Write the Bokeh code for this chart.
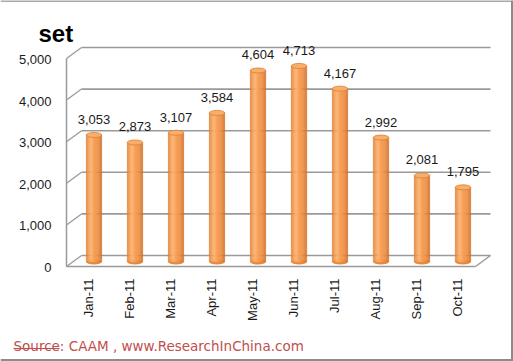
import numpy as np
from bokeh.plotting import figure
from bokeh.models import Range1d
from bokeh.core.properties import value
from bokeh.embed import file_html
from bokeh.resources import INLINE

# ---------------- data ----------------
months = ["Jan-11", "Feb-11", "Mar-11", "Apr-11", "May-11",
          "Jun-11", "Jul-11", "Aug-11", "Sep-11", "Oct-11"]
sales = [3053, 2873, 3107, 3584, 4604, 4713, 4167, 2992, 2081, 1795]
y_ticks = [0, 1000, 2000, 3000, 4000, 5000]
y_tick_labels = ["0", "1,000", "2,000", "3,000", "4,000", "5,000"]
unit_title = "set"
source_label = "Source"
source_text = "Source: CAAM , www.ResearchInChina.com"

# ---------------- geometry (pixels) ----------------
W, H = 513, 361
PX_PER_UNIT = 0.0416      # pixels per unit of value
Y0 = 255                  # canvas y of value 0 on the back wall
X0, DX = 93.5, 41.0       # canvas x of first bar, spacing


def cx(px):
    return (px - X0) / DX


def cy(py):
    return (Y0 - py) / PX_PER_UNIT


UPP = 1.0 / PX_PER_UNIT   # units per pixel

p = figure(width=W, height=H, output_backend="svg", toolbar_location=None,
           x_range=Range1d(cx(0), cx(W)), y_range=Range1d(cy(H), cy(0)),
           x_axis_location=None, y_axis_location=None, min_border=0,
           background_fill_color="white", border_fill_color="white")
p.grid.visible = False
p.outline_line_color = None

FONT = value("Liberation Sans")
grid_col = "#9a9a9a"

# ---------------- image frame ----------------
frame_col = "#8c8c8c"
p.segment(x0=[cx(0), cx(511.5), cx(0)], y0=[cy(0.5), cy(0), cy(359.5)],
          x1=[cx(513), cx(511.5), cx(513)], y1=[cy(0.5), cy(361), cy(359.5)],
          line_color=frame_col, line_width=[1.5, 2, 2])

# ---------------- 3D walls ----------------
depth_dx, depth_dy = 15, 11          # front offset in pixels
left_front = 66
wall_right = 490
ticks = np.array(y_ticks, dtype=float)
# back gridlines
p.segment(x0=[cx(left_front + depth_dx)] * len(ticks), y0=ticks,
          x1=[cx(wall_right)] * len(ticks), y1=ticks,
          line_color=grid_col, line_width=1.6)
# diagonals on the left wall
p.segment(x0=[cx(left_front)] * len(ticks), y0=ticks - depth_dy * UPP,
          x1=[cx(left_front + depth_dx)] * len(ticks), y1=ticks,
          line_color=grid_col, line_width=1.3)
# left vertical edge
p.segment(x0=[cx(left_front)], y0=[ticks.min() - depth_dy * UPP],
          x1=[cx(left_front)], y1=[ticks.max() - depth_dy * UPP],
          line_color=grid_col, line_width=1.5)
# floor front edge and right diagonal
p.segment(x0=[cx(left_front), cx(wall_right - depth_dx)],
          y0=[ticks.min() - depth_dy * UPP] * 2,
          x1=[cx(wall_right - depth_dx), cx(wall_right)],
          y1=[ticks.min() - depth_dy * UPP, ticks.min()],
          line_color=grid_col, line_width=1.5)

# ---------------- cylinders ----------------
xs = np.arange(len(sales), dtype=float)
vals = np.array(sales, dtype=float)
bw = 15.5 / DX
shift = 6.5 * UPP
stops_t = [0.0, 0.12, 0.35, 0.55, 0.8, 1.0]
stops_c = np.array([[222, 124, 50], [240, 148, 72], [253, 180, 112],
                    [249, 160, 86], [236, 138, 62], [208, 112, 42]], dtype=float)
n = 14
# bottom rounding
p.ellipse(x=xs, y=-shift, width=bw, height=5, height_units="screen",
          fill_color="#e48a40", line_color=None)
for k in range(n):
    t = (k + 0.5) / n
    c = [int(np.interp(t, stops_t, stops_c[:, j])) for j in range(3)]
    col = "#%02x%02x%02x" % tuple(c)
    p.vbar(x=xs + (t - 0.5) * bw, width=bw / n * 1.05, bottom=-shift,
           top=vals - shift, fill_color=col, line_color=col, line_width=0.3)
p.ellipse(x=xs, y=vals - shift, width=bw, height=5, height_units="screen",
          fill_color="#f9ae6c", line_color="#d98133", line_width=0.8)

# value labels
p.text(x=xs, y=vals, text=["{:,}".format(v) for v in sales], y_offset=-9,
       text_align="center", text_baseline="middle", text_font=FONT,
       text_font_size="13px", text_color="#1a1a1a")

# y tick labels (front edge)
p.text(x=[cx(51)] * len(ticks), y=ticks, text=y_tick_labels, y_offset=12,
       text_align="right", text_baseline="middle", text_font=FONT,
       text_font_size="13px", text_color="#1a1a1a")

# month labels
p.text(x=xs, y=[0.0] * len(xs), text=months, angle=np.pi / 2, x_offset=-6,
       y_offset=23, text_align="right", text_baseline="middle",
       text_font=FONT, text_font_size="13px", text_color="#1a1a1a")

# unit title
p.text(x=[cx(38)], y=[cy(33)], text=[unit_title], text_align="left",
       text_baseline="alphabetic", text_font=FONT, text_font_style="bold",
       text_font_size="24px", text_color="#000000")

# source line
src_col = "#c0504d"
p.text(x=[cx(13)], y=[cy(345)], text=[source_text], text_align="left",
       text_baseline="alphabetic", text_font=value("DejaVu Sans"),
       text_font_size="13.5px", text_color=src_col)
p.segment(x0=[cx(13)], y0=[cy(348)], x1=[cx(59)], y1=[cy(348)],
          line_color=src_col, line_width=1)

open("out.html", "w").write(file_html(p, INLINE))
